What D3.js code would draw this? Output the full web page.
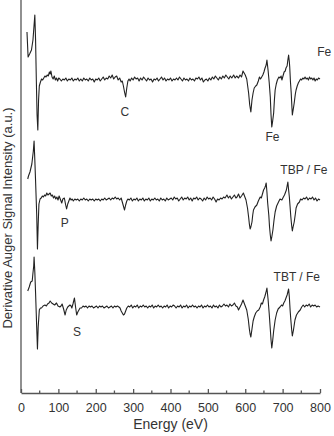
<!DOCTYPE html>
<html>
<head>
<meta charset="utf-8">
<script src="https://cdn.jsdelivr.net/npm/d3@7"></script>
<style>
body { margin: 0; background: #fff; }
svg { display: block; font-family: "Liberation Sans", Arial, sans-serif; }
</style>
</head>
<body>
<svg id="chart" width="334" height="436"></svg>
<script>
// spectra as [energy eV, derivative signal a.u. relative to its own baseline]
var feSpec = [[16,48],[19,23],[23,26],[28,30],[32,40],[35,55],[37,65],[39,40],[41,0],[43,-35],[45,-50],[47,-20],[49,-6],[52,-2],[55,1],[58,0],[61,2],[64,4],[67,3],[70,5],[73,4],[76,8],[78,6],[80,9],[83,3],[86,1],[89,4],[92,0],[95,2],[98,-1],[101,2],[104,1],[108,-1],[112,1],[116,0],[120,2],[124,-1],[128,1],[132,0],[136,2],[140,-1],[144,1],[148,0],[152,2],[156,-1],[160,1],[164,-1],[168,2],[172,0],[176,1],[180,-1],[184,2],[188,0],[192,1],[196,-2],[200,1],[204,0],[208,2],[212,-1],[216,1],[220,3],[224,0],[228,2],[232,1],[236,4],[240,2],[244,5],[248,1],[252,3],[256,4],[260,0],[264,2],[268,-2],[271,-1],[274,-6],[277,-12],[280,-17],[283,-8],[286,-1],[289,1],[292,-1],[296,2],[300,0],[304,3],[308,1],[312,2],[316,-1],[320,2],[324,0],[328,3],[332,1],[336,-1],[340,2],[344,0],[348,1],[352,-2],[356,1],[360,0],[364,2],[368,-1],[372,1],[376,3],[380,0],[384,2],[388,-1],[392,1],[396,0],[400,2],[404,-1],[408,1],[412,0],[416,2],[420,0],[424,3],[428,1],[432,-1],[436,2],[440,0],[444,1],[448,-1],[452,2],[456,0],[460,1],[464,-1],[468,2],[472,1],[476,3],[480,0],[484,2],[488,-2],[492,0],[496,1],[500,-1],[504,2],[508,0],[512,3],[516,1],[520,4],[524,2],[528,0],[532,3],[536,1],[540,4],[544,2],[548,5],[552,3],[556,1],[560,4],[564,2],[569,5],[573,2],[577,4],[582,2],[586,5],[590,3],[594,9],[597,7],[600,5],[604,1],[609,-13],[612,-25],[615,-32],[618,-20],[621,-13],[624,-8],[628,-6],[631,-5],[635,-1],[638,3],[641,1],[644,3],[647,5],[650,8],[653,12],[656,15],[658,20],[661,10],[664,-2],[667,-17],[669,-35],[671,-47],[673,-42],[676,-33],[678,-20],[680,-10],[683,-4],[686,0],[690,3],[693,2],[696,4],[698,0],[701,4],[704,8],[707,9],[709,12],[712,14],[714,20],[716,25],[718,18],[719,13],[721,-2],[723,-13],[725,-28],[726,-35],[729,-28],[731,-23],[734,-14],[736,-10],[739,-6],[742,-3],[745,-1],[748,1],[751,0],[754,2],[757,1],[760,3],[763,1],[766,2],[769,0],[772,3],[775,1],[778,2],[781,0],[784,2],[787,-1],[790,1],[793,0],[796,2],[800,1]];

var tbpSpec = [[18,21],[20,24],[24,28],[29,36],[33,49],[35,59],[37,40],[39,19],[42,-14],[44,-49],[46,-24],[48,-4],[51,1],[54,2],[57,4],[60,3],[63,5],[66,4],[69,7],[72,5],[75,6],[78,7],[81,4],[84,5],[87,2],[90,4],[93,1],[96,3],[99,0],[102,4],[105,1],[109,-3],[112,1],[116,2],[119,-4],[122,-9],[125,-4],[128,-1],[131,2],[134,0],[137,1],[140,-1],[144,1],[148,0],[152,1],[156,-1],[160,1],[164,0],[168,2],[172,0],[176,1],[180,-1],[184,1],[188,0],[192,1],[196,-1],[200,1],[204,0],[208,1],[212,-1],[216,1],[220,0],[224,2],[228,0],[232,1],[236,2],[240,0],[244,2],[248,1],[252,3],[256,1],[260,2],[264,0],[268,2],[271,-2],[274,-6],[277,-10],[280,-5],[283,-1],[286,1],[290,0],[294,2],[298,-1],[302,1],[306,0],[310,2],[314,-1],[318,1],[322,0],[326,2],[330,-1],[334,1],[338,0],[342,2],[346,-1],[350,1],[354,0],[358,2],[362,0],[366,1],[370,-1],[374,2],[378,0],[382,1],[386,-1],[390,2],[394,0],[398,1],[402,2],[406,0],[410,3],[414,1],[418,2],[422,-1],[426,1],[430,3],[434,0],[438,2],[442,1],[446,3],[450,0],[454,2],[458,-1],[462,2],[466,1],[470,3],[474,0],[478,2],[482,1],[486,-1],[490,2],[494,0],[498,3],[502,1],[506,2],[510,0],[514,3],[518,1],[522,-2],[526,1],[530,0],[534,2],[538,1],[542,3],[546,2],[551,5],[555,2],[559,4],[563,1],[567,3],[571,5],[575,2],[578,3],[582,6],[586,2],[590,4],[595,7],[598,4],[602,0],[606,-8],[609,-17],[611,-24],[613,-29],[615,-27],[618,-22],[620,-15],[622,-10],[626,-7],[631,-5],[635,-1],[640,3],[643,2],[646,6],[649,10],[652,12],[654,14],[656,17],[658,8],[660,-3],[663,-15],[665,-27],[667,-35],[669,-41],[671,-37],[674,-30],[677,-20],[680,-12],[684,-6],[689,-2],[693,1],[698,0],[702,3],[705,5],[707,7],[710,10],[712,14],[714,18],[716,10],[718,3],[720,-7],[722,-17],[724,-25],[726,-31],[728,-27],[731,-22],[734,-14],[736,-8],[740,-4],[745,-2],[748,1],[752,0],[756,2],[760,1],[764,3],[768,0],[772,2],[776,1],[780,3],[784,0],[788,2],[792,-1],[796,1],[800,0]];

var tbtSpec = [[18,16],[22,20],[26,25],[30,26],[32,34],[34,41],[35,50],[37,35],[39,14],[42,-20],[44,-42],[46,-20],[49,-3],[52,-1],[55,-1],[59,1],[64,2],[68,1],[71,3],[75,4],[78,6],[82,4],[86,3],[90,2],[95,4],[99,1],[104,0],[107,1],[110,3],[114,-2],[118,-8],[121,-3],[125,0],[128,1],[131,2],[134,1],[136,-1],[139,3],[143,9],[146,0],[149,-8],[152,-5],[155,-3],[158,-1],[162,-1],[166,1],[170,0],[174,1],[178,-1],[182,1],[186,0],[190,1],[194,-1],[198,0],[202,1],[206,-1],[210,1],[214,0],[218,1],[222,-1],[226,0],[230,1],[234,-1],[238,0],[242,1],[246,-1],[250,1],[254,0],[258,1],[262,0],[265,-1],[268,-4],[271,-6],[274,-8],[277,-7],[280,-4],[283,-1],[287,1],[291,0],[295,2],[299,-1],[303,1],[307,0],[311,2],[315,-1],[319,1],[323,0],[327,2],[331,0],[335,1],[339,-1],[343,1],[347,0],[351,2],[355,-1],[359,1],[363,0],[367,2],[371,0],[375,1],[379,-1],[383,1],[387,0],[391,2],[395,-1],[399,1],[403,0],[407,2],[411,1],[415,-1],[419,1],[423,0],[427,2],[431,-1],[435,1],[439,0],[443,2],[447,-1],[451,1],[455,0],[459,2],[463,0],[467,1],[471,-1],[475,1],[479,0],[483,2],[487,-1],[491,1],[495,0],[499,2],[503,0],[507,1],[511,-1],[515,2],[519,0],[523,1],[527,-1],[531,2],[535,0],[539,1],[543,3],[547,1],[551,2],[555,0],[559,3],[563,1],[567,2],[571,4],[575,1],[579,0],[582,-3],[586,0],[590,3],[594,7],[597,4],[600,1],[604,-3],[608,-12],[611,-22],[613,-27],[615,-30],[618,-22],[621,-14],[624,-10],[628,-6],[632,-4],[636,-3],[640,0],[643,4],[646,3],[649,7],[652,10],[655,14],[658,19],[661,8],[664,-6],[667,-22],[669,-33],[671,-41],[673,-35],[676,-24],[680,-13],[684,-6],[688,-2],[693,0],[697,2],[700,1],[703,4],[706,6],[709,9],[712,12],[714,15],[716,18],[718,10],[720,-3],[722,-13],[724,-22],[726,-29],[729,-23],[731,-18],[733,-13],[737,-8],[742,-5],[747,-3],[751,0],[755,2],[759,0],[763,2],[767,1],[771,3],[775,0],[779,2],[783,1],[787,2],[791,0],[795,1],[800,0]];

var spectra = [feSpec, tbpSpec, tbtSpec];
var offsets = [313, 193, 86];      // vertical shift of each trace (a.u.)
var sampleNames = ["Fe", "TBP / Fe", "TBT / Fe"];
var nameAt = [[830, 337], [820, 219], [800, 112]];  // [eV, a.u.] anchor (end) of each name
var peakNames = ["C", "Fe", "P", "S"];
var peakAt = [[278, 277], [673, 252], [117, 166], [150, 57]];
var xTicks = [0, 100, 200, 300, 400, 500, 600, 700, 800];
var xMinor = [50, 150, 250, 350, 450, 550, 650, 750];

var svg = d3.select("#chart");
var mLeft = 21, mBottom = 393, mRight = 320, mTop = 0;

var x = d3.scaleLinear().domain([0, 800]).range([mLeft, mRight]);
var y = d3.scaleLinear().domain([0, 393]).range([mBottom, mTop]);

var ink = "#333";

// axes
var xAxis = d3.axisBottom(x).tickValues(xTicks).tickSizeInner(-4).tickSizeOuter(0).tickPadding(10);
var gx = svg.append("g").attr("transform", "translate(0," + mBottom + ")").call(xAxis);
gx.select(".domain").attr("stroke", "#555").attr("stroke-width", 1.3);
gx.selectAll(".tick line").attr("stroke", "#555").attr("stroke-width", 1.3);
gx.selectAll(".tick text").attr("fill", ink).style("font-size", "12.5px");

svg.append("g").selectAll("line").data(xMinor).enter().append("line")
  .attr("x1", function(d) { return x(d); }).attr("x2", function(d) { return x(d); })
  .attr("y1", mBottom).attr("y2", mBottom - 2.5)
  .attr("stroke", "#555").attr("stroke-width", 1.3);

svg.append("line")
  .attr("x1", mLeft).attr("x2", mLeft).attr("y1", mTop).attr("y2", mBottom)
  .attr("stroke", "#555").attr("stroke-width", 1.3);

// traces
var line = d3.line()
  .x(function(d) { return x(d[0]); })
  .y(function(d) { return y(d[1] + d[2]); });

svg.append("g").selectAll("path").data(spectra).enter().append("path")
  .attr("d", function(s, i) {
    return line(s.map(function(p) { return [p[0], p[1], offsets[i]]; }));
  })
  .attr("fill", "none").attr("stroke", "#222").attr("stroke-width", 1.1)
  .attr("stroke-linejoin", "round");

// labels
svg.append("g").selectAll("text").data(sampleNames).enter().append("text")
  .attr("x", function(d, i) { return x(nameAt[i][0]); })
  .attr("y", function(d, i) { return y(nameAt[i][1]); })
  .attr("text-anchor", "end").attr("fill", ink).style("font-size", "12px")
  .text(function(d) { return d; });

svg.append("g").selectAll("text").data(peakNames).enter().append("text")
  .attr("x", function(d, i) { return x(peakAt[i][0]); })
  .attr("y", function(d, i) { return y(peakAt[i][1]); })
  .attr("text-anchor", "middle").attr("fill", ink).style("font-size", "12px")
  .text(function(d) { return d; });

svg.append("text")
  .attr("x", (mLeft + mRight) / 2).attr("y", 429)
  .attr("text-anchor", "middle").attr("fill", ink).style("font-size", "14px")
  .text("Energy (eV)");

svg.append("text")
  .attr("transform", "translate(12,218) rotate(-90)")
  .attr("text-anchor", "middle").attr("fill", ink).style("font-size", "13px")
  .text("Derivative Auger Signal Intensity (a.u.)");
</script>
</body>
</html>
